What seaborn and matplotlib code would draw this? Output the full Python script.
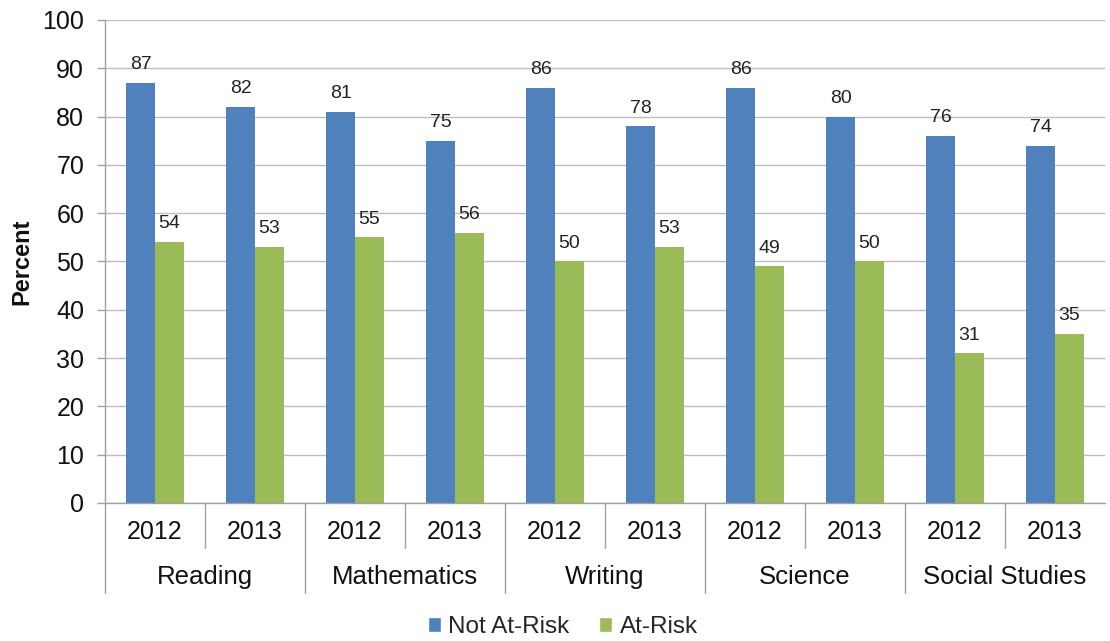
import matplotlib
matplotlib.use("Agg")
import matplotlib.pyplot as plt
import matplotlib.transforms as mtransforms
from matplotlib.patches import Patch
import seaborn as sns
import pandas as pd

subjects = ["Reading", "Mathematics", "Writing", "Science", "Social Studies"]
years = ["2012", "2013"]
series = ["Not At-Risk", "At-Risk"]
not_at_risk = [87, 82, 81, 75, 86, 78, 86, 80, 76, 74]
at_risk = [54, 53, 55, 56, 50, 53, 49, 50, 31, 35]
colors = ["#4F81BD", "#9BBB59"]

slots = [f"{s} {y}" for s in subjects for y in years]
df = pd.DataFrame({
    "slot": slots * 2,
    "series": [series[0]] * len(slots) + [series[1]] * len(slots),
    "value": not_at_risk + at_risk,
})

sns.set_theme(style="white")
plt.rcParams["font.family"] = ["Liberation Sans", "DejaVu Sans"]

fig = plt.figure(figsize=(11.1, 6.41), dpi=100)
ax = fig.add_axes([0.0946, 0.2153, 0.9009, 0.7535])

sns.barplot(data=df, x="slot", y="value", hue="series", order=slots,
            hue_order=series, palette=colors, width=0.58, saturation=1,
            legend=False, ax=ax, linewidth=0)

for cont in ax.containers:
    ax.bar_label(cont, labels=[f"{v:.0f}" for v in cont.datavalues],
                 padding=7, fontsize=14, color="#222222")

ax.set_xlim(-0.5, len(slots) - 0.5)
ax.set_ylim(0, 100)
ax.set_yticks(range(0, 101, 10))
ax.tick_params(axis="y", labelsize=18, length=6, width=1, color="#A0A0A0",
               direction="out", left=True, pad=9, labelcolor="#111111")
ax.set_xticks([])
ax.set_xlabel("")
ax.set_ylabel("")
fig.text(22 / 1110, 1 - 262 / 641, "Percent", rotation=90, ha="center",
         va="center", fontsize=17, fontweight="bold", color="#111111")
ax.grid(axis="y", color="#BDBDBD", linewidth=1)
ax.set_axisbelow(True)
for side in ["top", "right"]:
    ax.spines[side].set_visible(False)
for side in ["left", "bottom"]:
    ax.spines[side].set_color("#A0A0A0")
    ax.spines[side].set_linewidth(1)

trans = mtransforms.blended_transform_factory(ax.transData, ax.transAxes)
for i, slot in enumerate(slots):
    ax.text(i, -0.06, years[i % 2], transform=trans, ha="center", va="center",
            fontsize=18, color="#111111")
for i in range(len(subjects)):
    ax.plot([2 * i + 0.5] * 2, [0, -0.093], transform=trans, color="#A0A0A0",
            linewidth=1, clip_on=False)
    ax.text(2 * i + 0.5, -0.153, subjects[i], transform=trans, ha="center",
            va="center", fontsize=18.5, color="#111111")
for i in range(len(subjects)):
    ax.plot([2 * i - 0.5] * 2, [0, -0.186], transform=trans, color="#A0A0A0",
            linewidth=1, clip_on=False)

handles = [Patch(facecolor=c, label=s) for c, s in zip(colors, series)]
fig.legend(handles=handles, loc="center", bbox_to_anchor=(0.507, 0.022), ncol=2,
           frameon=False, fontsize=17.5, handlelength=0.55, handleheight=0.55,
           handletextpad=0.3, columnspacing=1.2)

fig.savefig("out.png", dpi=100)
